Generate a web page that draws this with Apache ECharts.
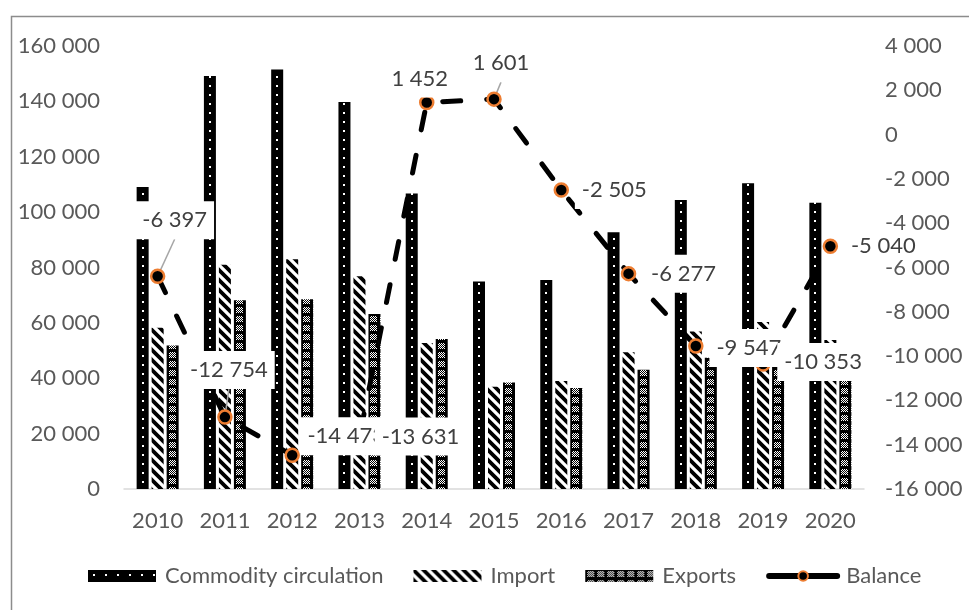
<!DOCTYPE html>
<html>
<head>
<meta charset="utf-8">
<script src="https://cdn.jsdelivr.net/npm/echarts@6/dist/echarts.min.js"></script>
<style>
  html, body { margin: 0; padding: 0; background: #ffffff; }
  #chart { width: 969px; height: 610px; }
</style>
</head>
<body>
<div id="chart"></div>
<script>
// Foreign trade: turnover, import, export (left axis) and trade balance (right axis)
const years = ['2010', '2011', '2012', '2013', '2014', '2015', '2016', '2017', '2018', '2019', '2020'];
const commodity = [109100, 149200, 151500, 139800, 106700, 74900, 75500, 92700, 104400, 110400, 103400];
const imports = [58200, 81000, 83000, 76800, 52700, 36900, 39000, 49400, 56900, 60300, 53800];
const exportsValues = [51800, 68200, 68500, 63200, 54200, 38500, 36500, 43100, 47400, 49900, 48800];
const balance = [-6397, -12754, -14473, -13631, 1452, 1601, -2505, -6277, -9547, -10353, -5040];

const leftTicks = [0, 160000, 20000];     // min, max, step
const rightTicks = [-16000, 4000, 2000];  // min, max, step

// Where each balance label sits relative to its point, and which ones get a leader line
const labelShift = [[17, -56], [4, -47], [54, -19], [61, 0], [-7, -24], [7, -36], [53, 0], [55, 0], [53, 2], [60, -2], [53, 0]];
const leader = [true, true, false, false, false, true, false, false, false, false, false];

const FONT = 'Lato, "Open Sans", sans-serif';
const GREY = '#595959';
const FS = 22;

function spaced(v) {
  return String(v).replace(/\B(?=(\d{3})+(?!\d))/g, ' ');
}

function tile(w, h, draw) {
  const c = document.createElement('canvas');
  c.width = w; c.height = h;
  draw(c.getContext('2d'));
  return c;
}

// Solid black with a column of small white dots
const dotTile = tile(12, 9, g => {
  g.fillStyle = '#000'; g.fillRect(0, 0, 12, 9);
  g.fillStyle = '#fff'; g.fillRect(5, 4, 2, 2);
});
// Wide downward diagonal stripes
const stripeTile = tile(10, 10, g => {
  g.fillStyle = '#fff'; g.fillRect(0, 0, 10, 10);
  g.strokeStyle = '#000'; g.lineWidth = 3.8; g.lineCap = 'butt';
  g.beginPath();
  for (const o of [-10, 0, 10]) { g.moveTo(o - 2, -2); g.lineTo(o + 12, 12); }
  g.stroke();
});
// Black with small white checker specks
const checkTile = tile(10, 9, g => {
  g.fillStyle = '#000'; g.fillRect(0, 0, 10, 9);
  g.fillStyle = '#fff';
  for (let y = 1; y <= 6; y++) for (let x = 2; x <= 8; x++) if ((x + y) % 2 === 0) g.fillRect(x, y, 1, 1);
});
const tiles = [dotTile, stripeTile, checkTile];
const pattern = (img, x) => ({ image: img, repeat: 'repeat', x: x || 0, y: 0 });

const chart = echarts.init(document.getElementById('chart'), null, { renderer: 'canvas' });

const barBase = {
  type: 'bar',
  barWidth: 12,
  barGap: '25%',
  yAxisIndex: 0,
  z: 2
};

const axisText = { fontFamily: FONT, fontSize: FS, color: GREY };

const option = {
  animation: false,
  backgroundColor: '#ffffff',
  textStyle: { fontFamily: FONT },
  graphic: [{
    type: 'rect', left: 9, top: 14, z: -10,
    shape: { width: 1000, height: 640 },
    style: { fill: 'none', stroke: '#8c8c8c', lineWidth: 1.5 }
  }],
  grid: { left: 124, right: 105, top: 46, bottom: 121, containLabel: false },
  legend: {
    left: 88, top: 565, padding: 0,
    itemWidth: 68, itemHeight: 12, itemGap: 30,
    textStyle: { fontFamily: FONT, fontSize: FS, color: GREY, padding: [0, 0, 0, 4] },
    lineStyle: { type: 'solid', cap: 'round', width: 6 },
    data: [
      { name: 'Commodity circulation', icon: 'rect' },
      { name: 'Import', icon: 'rect' },
      { name: 'Exports', icon: 'rect' },
      { name: 'Balance' }
    ]
  },
  xAxis: {
    type: 'category',
    data: years,
    axisLine: { lineStyle: { color: '#d9d9d9', width: 1.5 } },
    axisTick: { show: false },
    axisLabel: Object.assign({ margin: 21 }, axisText)
  },
  yAxis: [{
    type: 'value', min: leftTicks[0], max: leftTicks[1], interval: leftTicks[2],
    splitLine: { show: false }, axisLine: { show: false }, axisTick: { show: false },
    axisLabel: Object.assign({ margin: 24, formatter: spaced }, axisText)
  }, {
    type: 'value', min: rightTicks[0], max: rightTicks[1], interval: rightTicks[2],
    z: 10,
    splitLine: { show: false }, axisLine: { show: false }, axisTick: { show: false },
    axisLabel: Object.assign({ margin: 21, formatter: spaced }, axisText)
  }],
  series: [
    Object.assign({}, barBase, { name: 'Commodity circulation', data: commodity, itemStyle: { color: pattern(dotTile) } }),
    Object.assign({}, barBase, { name: 'Import', data: imports, itemStyle: { color: pattern(stripeTile) } }),
    Object.assign({}, barBase, { name: 'Exports', data: exportsValues, itemStyle: { color: pattern(checkTile) } }),
    {
      name: 'Balance',
      type: 'line',
      yAxisIndex: 1,
      z: 5,
      data: balance.map((v, i) => ({ value: v, labelLine: { show: leader[i] } })),
      symbol: 'circle',
      symbolSize: 13,
      itemStyle: { color: '#000000', borderColor: '#ED7D31', borderWidth: 2.5 },
      lineStyle: { color: '#000000', width: 5, type: [18, 26], cap: 'round' },
      label: {
        show: true,
        position: 'inside',
        formatter: p => spaced(p.value),
        fontFamily: FONT, fontSize: FS, color: '#404040',
        backgroundColor: '#ffffff',
        padding: [5, 7],
        lineHeight: 28
      },
      labelLine: { show: false, lineStyle: { color: '#a6a6a6', width: 1.5 } },
      labelLayout: p => ({ dx: labelShift[p.dataIndex][0], dy: labelShift[p.dataIndex][1] })
    }
  ]
};

chart.setOption(option);

// Line each bar's fill pattern up with the bar's own left edge
const barSeries = [commodity, imports, exportsValues];
const patched = barSeries.map((values, k) => {
  let layoutData = null;
  try { layoutData = chart.getModel().getSeriesByIndex(k).getData(); } catch (e) { layoutData = null; }
  return {
    data: values.map((v, i) => {
      const lay = layoutData ? layoutData.getItemLayout(i) : null;
      const x0 = lay ? Math.round(lay.x) : 0;
      return { value: v, itemStyle: { color: pattern(tiles[k], x0) } };
    })
  };
});
chart.setOption({ series: patched });
</script>
</body>
</html>
